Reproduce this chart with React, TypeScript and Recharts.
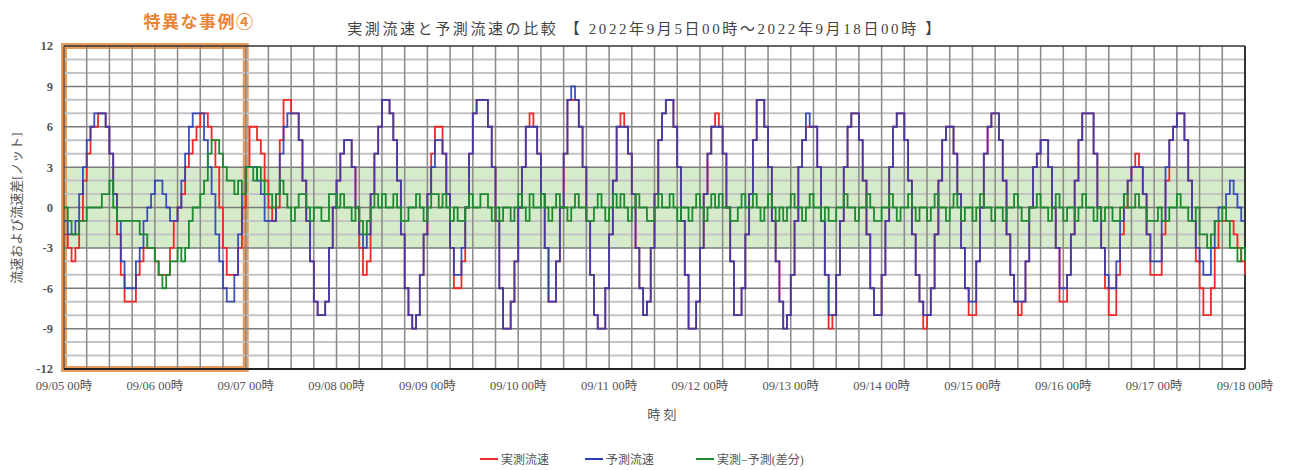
import { LineChart, Line, XAxis, YAxis, ReferenceLine, ReferenceArea } from "recharts";

// 時刻ラベル（24時間ごと）
const dayLabels = [
  "09/05 00時", "09/06 00時", "09/07 00時", "09/08 00時", "09/09 00時",
  "09/10 00時", "09/11 00時", "09/12 00時", "09/13 00時", "09/14 00時",
  "09/15 00時", "09/16 00時", "09/17 00時", "09/18 00時"
];

// 予測流速 [ノット]（1時間ごと, 09/05 00時〜09/18 00時）
const predicted = [
  -1, -2, -2, -1, 1, 3, 5, 6, 7, 7, 7, 6, 4, 1, -1, -4, -6, -6, -6, -4, -3, -1, 0, 1,
  2, 2, 1, 0, -1, -1, 0, 2, 4, 6, 7, 7, 7, 5, 3, 1, -2, -4, -6, -7, -7, -5, -2, 1,
  3, 3, 3, 2, 1, -1, -1, -1, 1, 4, 6, 7, 7, 7, 5, 2, -1, -4, -7, -8, -8, -7, -3, 0,
  2, 4, 5, 5, 3, 0, -2, -3, -2, 1, 4, 6, 8, 8, 7, 5, 2, -2, -6, -8, -9, -8, -5, -2,
  1, 3, 5, 5, 4, 1, -3, -5, -5, -3, 0, 4, 7, 8, 8, 8, 6, 3, -1, -6, -9, -9, -7, -4,
  0, 3, 6, 6, 6, 4, 1, -3, -7, -7, -4, 0, 4, 8, 9, 8, 6, 3, -1, -5, -8, -9, -9, -6,
  -2, 2, 6, 6, 6, 4, 1, -3, -6, -8, -7, -3, 1, 5, 7, 8, 8, 6, 3, -1, -5, -9, -9, -7,
  -3, 1, 4, 6, 6, 6, 4, 0, -4, -8, -8, -6, -2, 1, 5, 8, 8, 6, 3, -1, -4, -7, -9, -8,
  -5, -1, 3, 5, 7, 6, 6, 3, -1, -5, -8, -8, -5, -1, 3, 6, 7, 7, 5, 2, -2, -6, -8, -8,
  -5, -1, 3, 6, 7, 7, 5, 2, -2, -5, -7, -8, -8, -6, -2, 2, 5, 6, 6, 4, 1, -3, -6, -7,
  -7, -4, 0, 4, 6, 7, 7, 5, 2, -2, -5, -7, -7, -7, -4, 0, 3, 4, 5, 5, 3, 0, -3, -6,
  -6, -5, -2, 2, 5, 7, 7, 7, 4, 0, -3, -5, -6, -6, -4, -1, 1, 2, 3, 3, 3, 1, -2, -4,
  -4, -4, -1, 3, 5, 6, 7, 7, 5, 2, -1, -3, -4, -5, -5, -3, -1, 0, 0, 1, 2, 1, 0, -1,
  -1
];

// 実測流速 [ノット]
const actual = [
  -2, -3, -4, -3, -1, 2, 4, 6, 6, 7, 7, 6, 4, 1, -2, -5, -7, -7, -7, -5, -4, -3, -3, -3,
  -4, -5, -5, -5, -3, -1, 0, 1, 3, 4, 5, 6, 7, 7, 6, 5, 3, 0, -3, -5, -5, -5, -3, 0,
  3, 6, 6, 5, 4, 2, 0, -1, 0, 5, 8, 8, 7, 7, 5, 2, -1, -4, -7, -8, -8, -7, -3, 0,
  2, 4, 5, 5, 3, 0, -3, -5, -4, 1, 4, 6, 8, 8, 7, 5, 2, -2, -6, -8, -9, -8, -5, -2,
  1, 4, 6, 6, 4, 1, -3, -6, -6, -4, 0, 4, 7, 8, 8, 8, 6, 3, -1, -6, -9, -9, -7, -4,
  0, 3, 6, 7, 6, 4, 1, -3, -7, -7, -4, 0, 4, 8, 8, 8, 6, 3, -1, -5, -8, -9, -9, -6,
  -2, 2, 6, 7, 6, 4, 1, -3, -6, -8, -7, -3, 1, 5, 7, 8, 8, 6, 3, -1, -5, -9, -9, -7,
  -3, 1, 4, 6, 7, 6, 4, 0, -4, -8, -8, -6, -2, 1, 5, 8, 8, 6, 3, -1, -4, -7, -9, -8,
  -5, -1, 3, 5, 6, 6, 6, 3, -1, -5, -9, -8, -5, -1, 3, 6, 7, 7, 5, 2, -2, -6, -8, -8,
  -5, -1, 3, 6, 7, 7, 5, 2, -2, -5, -7, -9, -8, -6, -2, 2, 5, 6, 6, 4, 1, -3, -6, -8,
  -8, -4, 0, 4, 6, 7, 7, 5, 2, -2, -5, -7, -8, -7, -4, 0, 3, 4, 5, 5, 3, 0, -3, -7,
  -7, -5, -2, 2, 5, 7, 7, 7, 4, 0, -3, -6, -8, -8, -5, -2, 0, 2, 3, 4, 3, 1, -2, -5,
  -5, -5, -2, 2, 5, 6, 7, 7, 5, 2, -1, -4, -6, -8, -8, -6, -3, -1, -1, -1, -1, -2, -3, -4,
  -5
];

// 実測−予測（差分）
const diff = [
  0, -1, -2, -2, -1, -1, 0, 0, 0, 0, 1, 1, 2, 0, -1, -1, -1, -1, -1, -1, -2, -2, -3, -3,
  -4, -5, -6, -5, -4, -4, -3, -4, -3, -1, 0, 0, 1, 2, 4, 5, 5, 4, 3, 2, 2, 1, 2, 1,
  3, 3, 2, 3, 2, 1, 1, 0, 1, 2, 1, 0, -1, 0, 1, 1, 0, -1, 0, 0, -1, -1, 1, 1,
  0, 1, 0, 0, -1, 0, -1, -2, -1, 0, 1, 0, 1, 0, 0, 1, 0, -1, -1, 0, 0, 1, 0, -1,
  0, 1, 1, 0, 1, 0, -1, 0, -1, -1, 0, 1, 0, 0, 1, 1, 0, -1, 0, -1, 0, 0, -1, 0,
  1, 0, -1, 1, 0, 0, 1, 0, -1, 0, 1, 0, 0, -1, 0, 1, 0, 0, -1, -1, 0, 1, 0, -1,
  0, 1, 0, 1, 0, -1, 0, 1, 0, 0, -1, -1, 0, 1, 0, 0, 1, 0, -1, 0, 0, -1, 0, 1,
  0, -1, 0, 1, 0, 1, 0, 0, -1, -1, 0, 1, 0, 0, 1, 0, -1, 0, 1, 0, -1, 0, -1, 0,
  1, 0, 0, -1, 0, 1, 0, 0, -1, 0, -1, -1, 0, 0, 1, 0, 0, -1, 0, 0, 1, 0, -1, -1,
  0, 0, 1, 0, -1, 0, 0, 1, 0, -1, 0, 0, -1, 0, 1, 0, 0, -1, 0, 1, 0, -1, 0, 0,
  -1, 0, 1, 0, 0, -1, 0, 0, -1, 0, 0, 1, 0, -1, -1, 0, 0, 1, 0, 0, -1, 0, 1, 0,
  -1, 0, 0, -1, 0, 1, 0, 0, -1, 0, -1, 0, 0, -1, -1, 0, 1, 0, 0, 1, 0, 0, -1, -1,
  -1, 0, -1, -1, 0, 0, 1, 0, 0, -1, -1, 0, -2, -2, -3, -2, -1, -1, 0, -1, -3, -3, -4, -3,
  -4
];

const yTicks = [-12, -9, -6, -3, 0, 3, 6, 9, 12];

const data = predicted.map((p, i) => ({
  h: i,
  actual: actual[i],
  predicted: p,
  diff: diff[i],
}));

const xTicks = dayLabels.map((_, i) => i * 24);
const gridHours = Array.from({ length: 52 }, (_, i) => (i + 1) * 6);
const gridLevels = Array.from({ length: 23 }, (_, i) => i - 11);

const serif = "'Liberation Serif', 'Noto Sans CJK JP', serif";
const jp = "'Noto Sans CJK JP', sans-serif";

export default function App() {
  return (
    <div style={{ position: "absolute", left: 0, top: 0, width: 1297, height: 470, background: "#fff" }}>
      <LineChart
        width={1297}
        height={470}
        data={data}
        margin={{ top: 46, right: 52, bottom: 71, left: 20 }}
      >
        <ReferenceArea y1={-3} y2={3} fill="#d6ebca" fillOpacity={1} stroke="none" />

        {gridLevels.map((v) => (
          <ReferenceLine
            key={"y" + v}
            y={v}
            stroke={v % 3 === 0 ? "#7a7a7a" : "#c4c4c4"}
            strokeWidth={v % 3 === 0 ? 1.5 : 2}
          />
        ))}
        {gridHours.map((h) => (
          <ReferenceLine key={"x" + h} x={h} stroke="#8a8a8a" strokeWidth={1.5} />
        ))}
        <ReferenceLine y={12} stroke="#333" strokeWidth={1.5} />
        <ReferenceLine x={312} stroke="#333" strokeWidth={2} />

        <XAxis
          dataKey="h"
          type="number"
          domain={[0, 312]}
          ticks={xTicks}
          tickFormatter={(v: number) => dayLabels[v / 24]}
          interval={0}
          height={30}
          tickLine={false}
          tickSize={0}
          tickMargin={12}
          axisLine={{ stroke: "#222", strokeWidth: 2 }}
          tick={{ fill: "#555", fontSize: 12.5, fontFamily: serif }}
        />
        <YAxis
          type="number"
          domain={[-12, 12]}
          ticks={yTicks}
          interval={0}
          width={44}
          tickLine={false}
          tickSize={0}
          tickMargin={11}
          axisLine={{ stroke: "#333" }}
          tick={{ fill: "#555", fontSize: 12.5, fontFamily: serif, fontWeight: 700 }}
        />

        <Line
          type="stepAfter"
          dataKey="actual"
          name="実測流速"
          stroke="#ee2a2a"
          strokeWidth={1.8}
          dot={false}
          isAnimationActive={false}
        />
        <Line
          type="stepAfter"
          dataKey="predicted"
          name="予測流速"
          stroke="#2b3fb2"
          strokeOpacity={0.9}
          strokeWidth={1.8}
          dot={false}
          isAnimationActive={false}
        />
        <Line
          type="stepAfter"
          dataKey="diff"
          name="実測−予測(差分)"
          stroke="#1e8a30"
          strokeWidth={1.8}
          dot={false}
          isAnimationActive={false}
        />

        {/* 特異な事例④ の枠 */}
        <ReferenceArea
          x1={0}
          x2={48}
          y1={-12}
          y2={12}
          fill="none"
          stroke="#e69c5c"
          strokeWidth={6}
          ifOverflow="visible"
        />
      </LineChart>

      <div
        style={{
          position: "absolute",
          left: 199,
          top: 20,
          transform: "translate(-50%, -50%)",
          color: "#ea8434",
          fontFamily: jp,
          fontWeight: 700,
          fontSize: 17,
          letterSpacing: 1.5,
          whiteSpace: "nowrap",
        }}
      >
        特異な事例④
      </div>
      <div
        style={{
          position: "absolute",
          left: 645,
          top: 27,
          transform: "translate(-50%, -50%)",
          color: "#444",
          fontFamily: serif,
          fontSize: 15,
          letterSpacing: 2.6,
          whiteSpace: "nowrap",
        }}
      >
        実測流速と予測流速の比較 【 2022年9月5日00時～2022年9月18日00時 】
      </div>
      <div
        style={{
          position: "absolute",
          left: 15,
          top: 208,
          transform: "translate(-50%, -50%) rotate(-90deg)",
          color: "#555",
          fontFamily: serif,
          fontSize: 13,
          whiteSpace: "nowrap",
        }}
      >
        流速および流速差[ノット]
      </div>
      <div
        style={{
          position: "absolute",
          left: 662,
          top: 413,
          transform: "translate(-50%, -50%)",
          color: "#555",
          fontFamily: serif,
          fontSize: 13,
          whiteSpace: "nowrap",
        }}
      >
        時 刻
      </div>

      <div
        style={{
          position: "absolute",
          left: 480,
          top: 450,
          display: "flex",
          alignItems: "center",
          fontFamily: serif,
          fontSize: 12,
          color: "#555",
          whiteSpace: "nowrap",
        }}
      >
        {[
          { label: "実測流速", color: "#ee2a2a", gap: 36 },
          { label: "予測流速", color: "#2b3fb2", gap: 42 },
          { label: "実測−予測(差分)", color: "#1e8a30", gap: 0 },
        ].map((item) => (
          <span key={item.label} style={{ display: "flex", alignItems: "center", marginRight: item.gap }}>
            <span style={{ display: "inline-block", width: 18, height: 2, background: item.color, marginRight: 3 }} />
            {item.label}
          </span>
        ))}
      </div>
    </div>
  );
}
